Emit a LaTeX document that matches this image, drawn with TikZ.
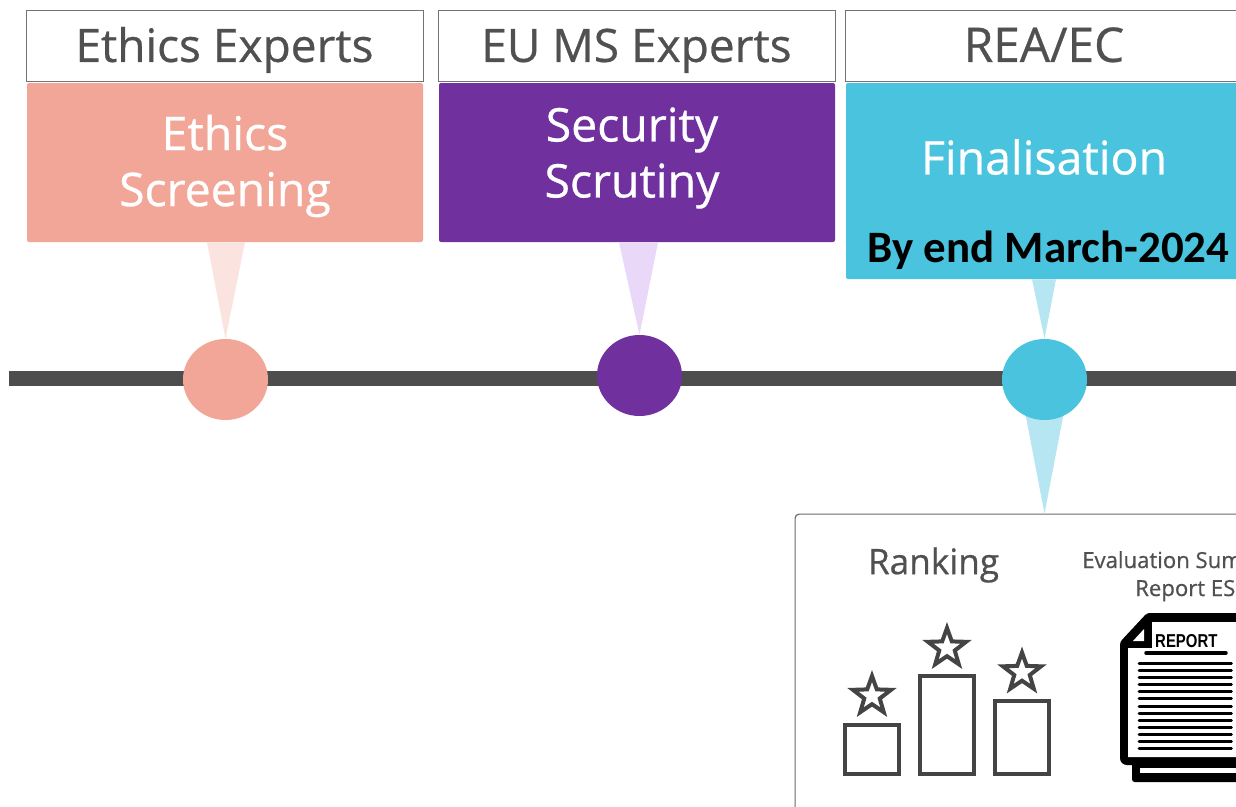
\documentclass[tikz,border=0pt]{standalone}
\usepackage{fontspec}
\setmainfont{Open Sans}[FakeBold=0.6]
\newfontfamily\calib{Carlito}
\newfontfamily\narrowf{Liberation Sans}
\usetikzlibrary{shapes.geometric,calc}
\definecolor{txtgray}{HTML}{505050}
\definecolor{salmon}{HTML}{F1A698}
\definecolor{salmonl}{HTML}{FBE4E0}
\definecolor{purp}{HTML}{70309E}
\definecolor{purpl}{HTML}{E9D8F8}
\definecolor{cyanb}{HTML}{4AC3DE}
\definecolor{cyanl}{HTML}{B5E6F1}
\definecolor{linegray}{HTML}{4D4D4D}
\definecolor{icongray}{HTML}{444444}
\tikzset{
  x=0.75pt,y=-0.75pt,
  header/.style={draw=black!55,line width=0.75pt,fill=white,minimum height=53.25pt,inner sep=0pt,text=txtgray,text height=24.6pt,text depth=0pt,font=\fontsize{34.5}{40}\selectfont},
  stage/.style={rounded corners=1.5pt,inner sep=0pt},
  dot/.style={ellipse,minimum width=63.75pt,minimum height=60.75pt,inner sep=0pt},
  stagetxt/.style={text=white,align=center,inner sep=0pt,font=\fontsize{34.8}{42}\selectfont},
  bar/.style={draw=icongray,line width=3pt,minimum width=40.5pt,inner sep=0pt},
  starry/.style={star,star points=5,star point ratio=2.45,draw=icongray,line width=3pt,minimum size=30pt,inner sep=0pt,fill=white},
  doclines/.style={line width=2.2pt,line cap=round,black},
}
\begin{document}
\begin{tikzpicture}
\clip (0,0) rectangle (1236,807);
\fill[white] (0,0) rectangle (1236,807);
% timeline
\coordinate (tlstart) at (9,378.5);
\coordinate (tlend) at (1240,378.5);
\draw[linegray,line width=11.25pt] (tlstart) -- (tlend);
% boxes
\node[header,minimum width=297.75pt] (h1) at (224.5,45.5) {Ethics Experts};
\node[header,minimum width=297.75pt] (h2) at (636.5,45.5) {EU MS Experts};
\node[header,minimum width=298.5pt,font=\fontsize{35.8}{40}\selectfont] (h3) at (1044,45.5) {REA/EC};
\node[stage,fill=salmon,minimum width=297pt,minimum height=119.25pt] (s1) at (225,162.5) {};
\node[stage,fill=purp,minimum width=297pt,minimum height=119.25pt] (s2) at (637,162.5) {};
\node[stage,fill=cyanb,minimum width=297pt,minimum height=147pt] (s3) at (1044,181) {};
% dots positions and panel
\node[dot] (d1) at (225.5,379.5) {};
\node[dot] (d2) at (639.5,375.5) {};
\node[dot] (d3) at (1044.5,379.5) {};
\node[draw=black!58,line width=0.9pt,rounded corners=3pt,minimum width=345pt,minimum height=225pt,inner sep=0pt,anchor=north west,fill=white] (panel) at (794.5,513.5) {};
% tapers
\fill[salmonl] ($(s1.south)+(-18,0)$) -- ($(s1.south)+(20,0)$) -- (d1.north) -- cycle;
\fill[purpl] ($(s2.south)+(-18,0)$) -- ($(s2.south)+(21,0)$) -- (d2.north) -- cycle;
\fill[cyanl] ($(s3.south)+(-12,0)$) -- ($(s3.south)+(12,0)$) -- (d3.north) -- cycle;
\fill[cyanl] ($(d3.south)+(-19,-6)$) -- ($(d3.south)+(19,-6)$) -- (panel.north -| d3.south) -- cycle;
% dots on top
\fill[salmon] (d1.center) ellipse [x radius=42.5,y radius=40.5];
\fill[purp] (d2.center) ellipse [x radius=42.5,y radius=40.5];
\fill[cyanb] (d3.center) ellipse [x radius=42.5,y radius=40.5];
% stage text
\node[stagetxt] (t1) at (225,166) {Ethics\\Screening};
\node[stagetxt] (t2) at (632,158) {Security\\Scrutiny};
\node[stagetxt] (t3) at (1044,157) {Finalisation};
\node[inner sep=0pt,font=\calib\bfseries\fontsize{33.7}{40}\selectfont,text=black] (t4) at (1048.5,250) {By end March-2024};
% panel content
\node[text=txtgray,inner sep=0pt,font=\fontsize{26.4}{30}\selectfont] (rank) at (933.5,565) {Ranking};
\node[text=txtgray,inner sep=0pt,anchor=base west,font=\fontsize{16.6}{18}\selectfont] (esr1) at (1082,568) {Evaluation Sum};
\node[text=txtgray,inner sep=0pt,anchor=base west,font=\fontsize{16.6}{18}\selectfont] (esr2) at (1135,596) {Report ES};
% bars
\node[bar,minimum height=36.75pt,anchor=south] (b1) at (871.5,776) {};
\node[bar,minimum height=73.5pt,anchor=south] (b2) at (946.5,776) {};
\node[bar,minimum height=55pt,anchor=south] (b3) at (1021.5,776) {};
\node[starry] (st1) at (872,696) {};
\node[starry] (st2) at (947,648) {};
\node[starry] (st3) at (1022,672.5) {};
% report icon
\fill[black,rounded corners=2pt] (1132,760) -- (1132,782) -- (1260,782) -- (1260,760) -- cycle;
\fill[white] (1140,768) rectangle (1260,773);
\fill[black,rounded corners=2pt] (1147,613) -- (1260,613) -- (1260,765) -- (1124,765) -- (1120,761) -- (1120,642) -- cycle;
\fill[white] (1152,622) -- (1260,622) -- (1260,757) -- (1128,757) -- (1128,648) -- (1152,648) -- cycle;
\fill[white] (1133,641) -- (1144,629) -- (1144,641) -- cycle;
\node[inner sep=0pt,anchor=base west,text=black,font=\narrowf\bfseries\fontsize{14}{16}\selectfont,xscale=0.8] (rep) at (1155,647) {REPORT};
\draw[line width=2.6pt,line cap=round,black] (1146,653) -- (1226,653);
\foreach \i in {0,...,12}{
  \draw[doclines] (1139,663.3+7.13*\i) -- (1231.5,663.3+7.13*\i);
}
\end{tikzpicture}
\end{document}
